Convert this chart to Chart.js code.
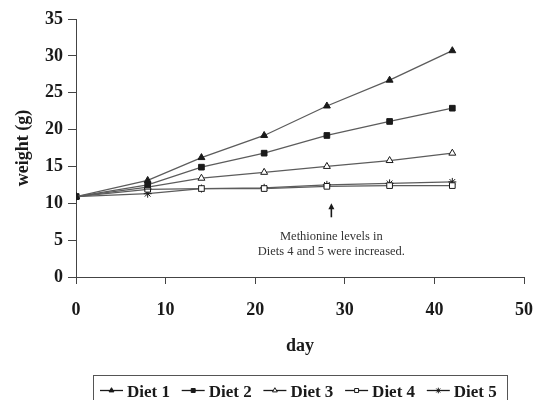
<!DOCTYPE html>
<html>
<head>
<meta charset="utf-8">
<script src="https://cdn.jsdelivr.net/npm/chart.js@4.4.0/dist/chart.umd.min.js"></script>
<style>
  html, body { margin: 0; padding: 0; background: #fff; }
  #wrap { width: 534px; height: 400px; position: relative; }
</style>
</head>
<body>
<div id="wrap"><canvas id="weightChart"></canvas></div>
<script>
// --- data ---
const days = [0, 8, 14, 21, 28, 35, 42];
const diet1 = [10.9, 13.1, 16.2, 19.2, 23.2, 26.7, 30.7];
const diet2 = [10.9, 12.5, 14.9, 16.8, 19.2, 21.1, 22.9];
const diet3 = [10.9, 12.2, 13.4, 14.2, 15.0, 15.8, 16.8];
const diet4 = [10.9, 11.9, 12.0, 12.0, 12.3, 12.4, 12.4];
const diet5 = [10.9, 11.3, 12.0, 12.1, 12.5, 12.7, 12.9];
const seriesLabels = ['Diet 1', 'Diet 2', 'Diet 3', 'Diet 4', 'Diet 5'];
const xTicks = [0, 10, 20, 30, 40, 50];
const yTicks = [0, 5, 10, 15, 20, 25, 30, 35];
const noteLines = ['Methionine levels in', 'Diets 4 and 5 were increased.'];
const noteDay = 28.5;

const SERIF = '"Liberation Serif", "Times New Roman", serif';
const INK = '#1a1a1a';
const LINE = '#5c5c5c';

const markers = [
    { style: 'triangle', fill: INK },
    { style: 'rect', fill: INK },
    { style: 'triangle', fill: '#fff' },
    { style: 'rect', fill: '#fff' },
    { style: 'star', fill: INK }
];

function toPoints(values) {
    return values.map((v, i) => ({ x: days[i], y: v }));
}

const allSeries = [diet1, diet2, diet3, diet4, diet5];
const datasets = allSeries.map((values, i) => ({
    label: seriesLabels[i],
    data: toPoints(values),
    borderColor: LINE,
    borderWidth: 1.3,
    pointStyle: markers[i].style,
    pointRadius: 4,
    pointBorderWidth: 1,
    pointBorderColor: INK,
    pointBackgroundColor: markers[i].fill,
    tension: 0
}));

// annotation: arrow + two lines of text
const notePlugin = {
    id: 'note',
    afterDatasetsDraw(chart) {
        const { ctx, scales: { x, y } } = chart;
        const px = x.getPixelForValue(noteDay);
        const top = y.getPixelForValue(10);
        const bottom = y.getPixelForValue(8.1);
        ctx.save();
        ctx.strokeStyle = INK;
        ctx.fillStyle = INK;
        ctx.lineWidth = 1.6;
        ctx.beginPath();
        ctx.moveTo(px, bottom);
        ctx.lineTo(px, top + 4);
        ctx.stroke();
        ctx.beginPath();
        ctx.moveTo(px, top);
        ctx.lineTo(px - 3, top + 6);
        ctx.lineTo(px + 3, top + 6);
        ctx.closePath();
        ctx.fill();
        ctx.font = '12.5px ' + SERIF;
        ctx.textAlign = 'center';
        ctx.textBaseline = 'middle';
        ctx.fillStyle = '#333';
        ctx.fillText(noteLines[0], px, y.getPixelForValue(5.5));
        ctx.fillText(noteLines[1], px, y.getPixelForValue(3.4));
        ctx.restore();
    }
};

// boxed legend with line + marker samples (bottom edge runs off the page, as in the source)
const boxLegendPlugin = {
    id: 'boxLegend',
    afterDraw(chart) {
        const { ctx } = chart;
        const box = { left: 93.5, top: 375.5, right: 507.5, bottom: 402 };
        const startX = 100, step = 81.7, lineY = 390.5;
        ctx.save();
        ctx.strokeStyle = '#555';
        ctx.lineWidth = 1;
        ctx.strokeRect(box.left, box.top, box.right - box.left, box.bottom - box.top);
        ctx.font = 'bold 17px ' + SERIF;
        ctx.textBaseline = 'alphabetic';
        ctx.textAlign = 'left';
        chart.data.datasets.forEach((ds, i) => {
            const x0 = startX + i * step;
            ctx.strokeStyle = INK;
            ctx.lineWidth = 1.3;
            ctx.beginPath();
            ctx.moveTo(x0, lineY);
            ctx.lineTo(x0 + 23, lineY);
            ctx.stroke();
            ctx.fillStyle = ds.pointBackgroundColor;
            ctx.strokeStyle = INK;
            ctx.lineWidth = 1;
            Chart.helpers.drawPoint(ctx, { pointStyle: ds.pointStyle, radius: 2.8, borderWidth: 1, rotation: 0 }, x0 + 11.5, lineY);
            ctx.fillStyle = INK;
            ctx.fillText(ds.label, x0 + 27, 396.5);
        });
        ctx.restore();
    }
};

new Chart(document.getElementById('weightChart'), {
    type: 'line',
    data: { datasets },
    options: {
        responsive: true,
        maintainAspectRatio: false,
        animation: false,
        layout: { padding: { top: 19, right: 10, bottom: 43, left: 0 } },
        plugins: { legend: { display: false }, tooltip: { enabled: false } },
        scales: {
            x: {
                type: 'linear',
                min: 0, max: 50,
                afterBuildTicks: (s) => { s.ticks = xTicks.map(v => ({ value: v })); },
                afterFit: (s) => { s.height = 80; s.paddingLeft = 0; s.paddingRight = 0; },
                border: { color: '#444', width: 1 },
                grid: { drawOnChartArea: false, color: '#444', tickLength: 7 },
                ticks: { color: INK, padding: 16, font: { family: SERIF, size: 18, weight: 'bold' }, maxRotation: 0 },
                title: { display: true, text: 'day', color: INK, padding: { top: 0, bottom: 0 }, font: { family: SERIF, size: 18, weight: 'bold' } }
            },
            y: {
                min: 0, max: 35,
                afterBuildTicks: (s) => { s.ticks = yTicks.map(v => ({ value: v })); },
                afterFit: (s) => { s.width = 76; s.paddingTop = 0; s.paddingBottom = 0; },
                border: { color: '#444', width: 1 },
                grid: { drawOnChartArea: false, color: '#444', tickLength: 8 },
                ticks: { color: INK, padding: 5, font: { family: SERIF, size: 18, weight: 'bold' } },
                title: { display: true, text: 'weight (g)', color: INK, padding: { top: 13, bottom: 0 }, font: { family: SERIF, size: 18, weight: 'bold' } }
            }
        }
    },
    plugins: [notePlugin, boxLegendPlugin]
});
</script>
</body>
</html>
